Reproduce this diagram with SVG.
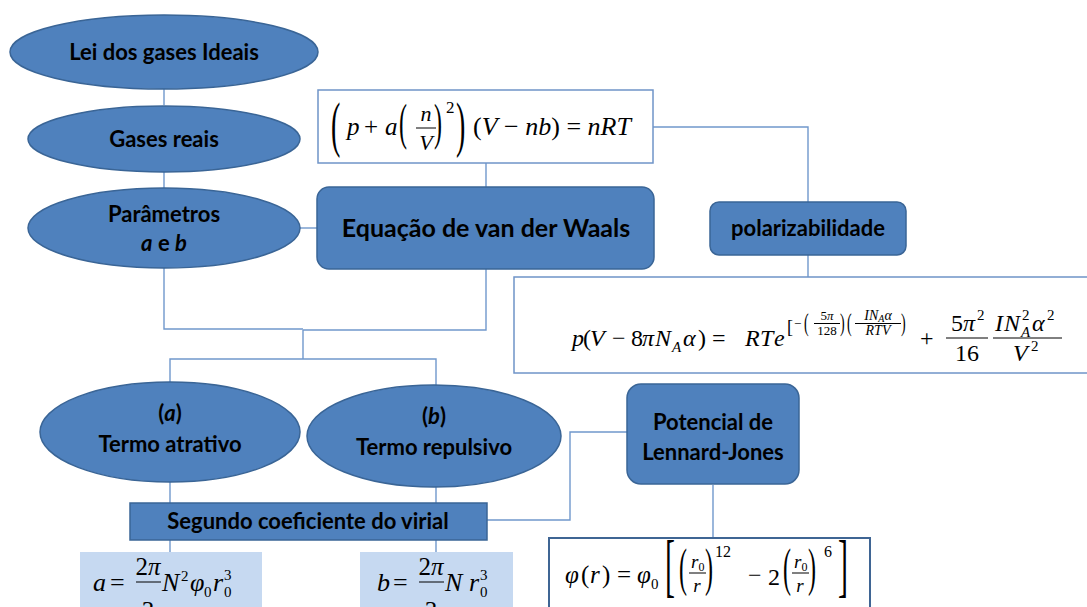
<svg xmlns="http://www.w3.org/2000/svg" width="1087" height="607" viewBox="0 0 1087 607">
<style>
.node{fill:#4F81BD;stroke:#3A6596;stroke-width:1.5}
.lbl{font-family:Lato,"Liberation Sans",sans-serif;font-weight:bold;fill:#000;text-anchor:middle;font-size:22px}
.con{fill:none;stroke:#7098CC;stroke-width:1.4}
.fbox{fill:#fff;stroke:#6F94C8;stroke-width:1.5}
.lbox{fill:#C6D9F1;stroke:none}
.m{font-family:"Liberation Serif","DejaVu Serif",serif;fill:#000}
.i{font-style:italic}
.c{text-anchor:middle}
.bar{stroke:#000;stroke-width:1}
</style>
<rect width="1087" height="607" fill="#fff"/>

<g id="connectors">
<path class="con" d="M164 89V105"/>
<path class="con" d="M164 172V188"/>
<path class="con" d="M300 228H318"/>
<path class="con" d="M486 163V187"/>
<path class="con" d="M653 127H808V202"/>
<path class="con" d="M808 255V277"/>
<path class="con" d="M164 268V329H303"/>
<path class="con" d="M486 269V330H303"/>
<path class="con" d="M303 330V359"/>
<path class="con" d="M170 382V359H436V386"/>
<path class="con" d="M170 481V503"/>
<path class="con" d="M436 486V503"/>
<path class="con" d="M170 540V552"/>
<path class="con" d="M436 540V552"/>
<path class="con" d="M487 520H570V432H627"/>
<path class="con" d="M713 485V538"/>
</g>

<g id="lei">
<ellipse class="node" cx="164" cy="52" rx="154" ry="37"/>
<text class="lbl" x="164" y="60">Lei dos gases Ideais</text>
</g>

<g id="gases-reais">
<ellipse class="node" cx="164" cy="139" rx="136" ry="33"/>
<text class="lbl" x="164" y="147">Gases reais</text>
</g>

<g id="parametros">
<ellipse class="node" cx="164" cy="228" rx="136" ry="40"/>
<text class="lbl" x="164" y="222">Parâmetros</text>
<text class="lbl" x="164" y="251"><tspan font-style="italic">a</tspan> e <tspan font-style="italic">b</tspan></text>
</g>

<g id="eq-vdw-formula">
<rect class="fbox" x="318" y="90" width="335" height="73"/>
<text class="m" transform="translate(331 144.5) scale(1 2.2)" font-size="28">(</text>
<text class="m i" x="347" y="135" font-size="25">p</text>
<text class="m" x="364" y="135" font-size="25">+</text>
<text class="m i" x="385" y="135" font-size="25">a</text>
<text class="m" transform="translate(399 138.8) scale(1 2.15)" font-size="24">(</text>
<text class="m i c" x="426" y="121" font-size="22">n</text>
<line class="bar" x1="416" y1="128" x2="436" y2="128"/>
<text class="m i c" x="426" y="150" font-size="22">V</text>
<text class="m" transform="translate(434 138.8) scale(1 2.15)" font-size="24">)</text>
<text class="m" x="446" y="113" font-size="17">2</text>
<text class="m" transform="translate(456 144.5) scale(1 2.2)" font-size="28">)</text>
<text class="m" x="473" y="135" font-size="26">(<tspan class="i">V</tspan> − <tspan class="i">nb</tspan>) = <tspan class="i">nRT</tspan></text>
</g>

<g id="eq-vdw">
<rect class="node" x="317" y="187" width="337" height="82" rx="12"/>
<text class="lbl" x="486" y="237" style="font-size:25px">Equação de van der Waals</text>
</g>

<g id="polarizabilidade">
<rect class="node" x="710" y="202" width="196" height="53" rx="9"/>
<text class="lbl" x="808" y="236">polarizabilidade</text>
</g>

<g id="polar-formula">
<rect class="fbox" x="514" y="277" width="590" height="96"/>
<text class="m i" x="572" y="346" font-size="24">p</text>
<text class="m" x="583" y="346" font-size="24">(</text>
<text class="m i" x="590" y="346" font-size="24">V</text>
<text class="m" x="612" y="346" font-size="24">−</text>
<text class="m" x="631" y="346" font-size="24">8</text>
<text class="m i" x="642" y="346" font-size="24">π</text>
<text class="m i" x="655" y="346" font-size="24">N</text>
<text class="m i" x="672" y="352" font-size="15">A</text>
<text class="m i" x="683" y="346" font-size="24">α</text>
<text class="m" x="698" y="346" font-size="24">)</text>
<text class="m" x="712" y="346" font-size="24">=</text>
<text class="m i" x="745" y="346" font-size="24">R</text>
<text class="m i" x="760" y="346" font-size="24">T</text>
<text class="m i" x="774" y="346" font-size="24">e</text>
<text class="m" x="787" y="333" font-size="18">[</text>
<text class="m" x="794" y="328" font-size="13">−</text>
<text class="m" transform="translate(804 331) scale(1 1.8)" font-size="14">(</text>
<text class="m c" x="827" y="320" font-size="13">5<tspan class="i">π</tspan></text>
<line class="bar" x1="814" y1="323.5" x2="840" y2="323.5" stroke-width="0.8"/>
<text class="m c" x="827" y="335" font-size="13">128</text>
<text class="m" transform="translate(840 331) scale(1 1.8)" font-size="14">)</text>
<text class="m" transform="translate(847 331) scale(1 1.8)" font-size="14">(</text>
<text class="m i c" x="878" y="320" font-size="14">IN<tspan font-size="10" dy="2">A</tspan><tspan dy="-2">α</tspan></text>
<line class="bar" x1="855" y1="323.5" x2="901" y2="323.5" stroke-width="0.8"/>
<text class="m i c" x="878" y="335" font-size="14">RTV</text>
<text class="m" transform="translate(901 331) scale(1 1.8)" font-size="14">)</text>
<text class="m" x="920" y="346" font-size="24">+</text>
<text class="m c" x="963" y="331" font-size="24">5<tspan class="i">π</tspan></text>
<text class="m" x="977" y="320" font-size="15">2</text>
<line class="bar" x1="946" y1="338" x2="988" y2="338"/>
<text class="m c" x="967" y="361" font-size="24">16</text>
<text class="m i" x="995" y="331" font-size="24">I</text>
<text class="m i" x="1004" y="331" font-size="24">N</text>
<text class="m" x="1022" y="320" font-size="15">2</text>
<text class="m i" x="1021" y="337" font-size="15">A</text>
<text class="m i" x="1032" y="331" font-size="24">α</text>
<text class="m" x="1047" y="320" font-size="15">2</text>
<line class="bar" x1="993" y1="338" x2="1062" y2="338"/>
<text class="m i" x="1013" y="361" font-size="24">V</text>
<text class="m" x="1031" y="351" font-size="15">2</text>
</g>

<g id="termo-a">
<ellipse class="node" cx="170" cy="432" rx="130" ry="50"/>
<text class="lbl" x="170" y="421">(<tspan font-style="italic">a</tspan>)</text>
<text class="lbl" x="170" y="452">Termo atrativo</text>
</g>

<g id="termo-b">
<ellipse class="node" cx="434" cy="436" rx="127" ry="51"/>
<text class="lbl" x="434" y="424">(<tspan font-style="italic">b</tspan>)</text>
<text class="lbl" x="434" y="455">Termo repulsivo</text>
</g>

<g id="segundo">
<rect class="node" x="130" y="503" width="357" height="37"/>
<text class="lbl" x="308" y="529">Segundo coeficiente do virial</text>
</g>

<g id="lennard-jones">
<rect class="node" x="627" y="384" width="172" height="100" rx="14"/>
<text class="lbl" x="713" y="430">Potencial de</text>
<text class="lbl" x="713" y="460">Lennard-Jones</text>
</g>

<g id="lj-formula">
<rect x="549" y="538" width="321" height="80" fill="#fff" stroke="#3F6594" stroke-width="2"/>
<text class="m i" x="565" y="583" font-size="25">φ</text>
<text class="m" x="581" y="583" font-size="25">(</text>
<text class="m i" x="590" y="583" font-size="25">r</text>
<text class="m" x="602" y="583" font-size="25">)</text>
<text class="m" x="617" y="583" font-size="25">=</text>
<text class="m i" x="637" y="583" font-size="25">φ</text>
<text class="m" x="651" y="589" font-size="15">0</text>
<text class="m" transform="translate(665 589) scale(1 2.33)" font-size="30">[</text>
<text class="m" transform="translate(679 585) scale(1 2.24)" font-size="24">(</text>
<text class="m i" x="691" y="568" font-size="19">r<tspan class="m" font-style="normal" font-size="12" dy="3">0</tspan></text>
<line class="bar" x1="689" y1="573" x2="706" y2="573"/>
<text class="m i c" x="697" y="592" font-size="19">r</text>
<text class="m" transform="translate(705 585) scale(1 2.24)" font-size="24">)</text>
<text class="m" x="715" y="557" font-size="16">12</text>
<text class="m" x="748" y="583" font-size="24">−</text>
<text class="m" x="768" y="585" font-size="24">2</text>
<text class="m" transform="translate(783 585) scale(1 2.24)" font-size="24">(</text>
<text class="m i" x="794" y="568" font-size="19">r<tspan class="m" font-style="normal" font-size="12" dy="3">0</tspan></text>
<line class="bar" x1="792" y1="573" x2="809" y2="573"/>
<text class="m i c" x="800" y="592" font-size="19">r</text>
<text class="m" transform="translate(808 585) scale(1 2.24)" font-size="24">)</text>
<text class="m" x="824" y="557" font-size="16">6</text>
<text class="m" transform="translate(838 589) scale(1 2.33)" font-size="30">]</text>
</g>

<g id="formula-a">
<rect class="lbox" x="80" y="552" width="182" height="60"/>
<text class="m i" x="93" y="591" font-size="26">a</text>
<text class="m" x="110" y="591" font-size="26">=</text>
<text class="m c" x="148" y="575" font-size="25">2<tspan class="i">π</tspan></text>
<line class="bar" x1="136" y1="582" x2="161" y2="582"/>
<text class="m c" x="148" y="619" font-size="25">3</text>
<text class="m i" x="162" y="591" font-size="26">N</text>
<text class="m" x="181" y="581" font-size="15">2</text>
<text class="m i" x="190" y="591" font-size="26">φ</text>
<text class="m" x="204" y="597" font-size="15">0</text>
<text class="m i" x="213" y="591" font-size="26">r</text>
<text class="m" x="224" y="580" font-size="15">3</text>
<text class="m" x="224" y="597" font-size="15">0</text>
</g>

<g id="formula-b">
<rect class="lbox" x="360" y="552" width="153" height="60"/>
<text class="m i" x="377" y="591" font-size="26">b</text>
<text class="m" x="393" y="591" font-size="26">=</text>
<text class="m c" x="431" y="575" font-size="25">2<tspan class="i">π</tspan></text>
<line class="bar" x1="419" y1="582" x2="444" y2="582"/>
<text class="m c" x="431" y="619" font-size="25">3</text>
<text class="m i" x="445" y="591" font-size="26">N</text>
<text class="m i" x="469" y="591" font-size="26">r</text>
<text class="m" x="480" y="580" font-size="15">3</text>
<text class="m" x="480" y="597" font-size="15">0</text>
</g>
</svg>
